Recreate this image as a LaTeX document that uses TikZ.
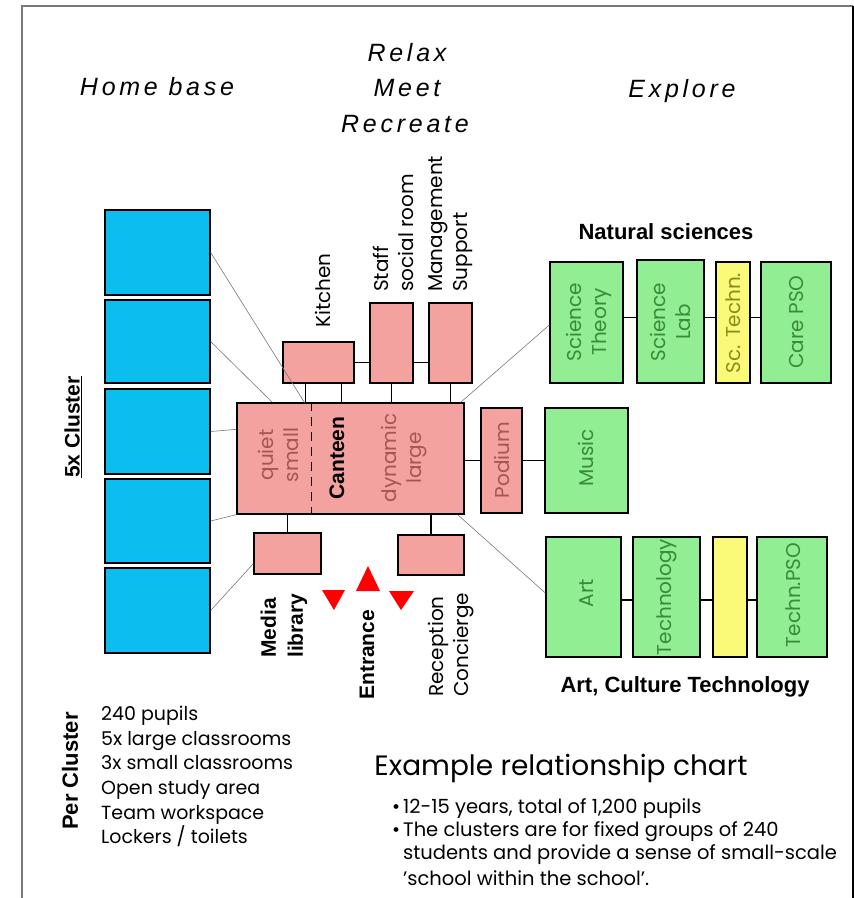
\documentclass[tikz,border=0pt]{standalone}
\usepackage{fontspec}
\setmainfont{Poppins}
\newfontfamily\headfont[LetterSpace=15]{Liberation Sans}
\newfontfamily\arialfont{Liberation Sans}
\usetikzlibrary{calc}
\definecolor{cyanfill}{RGB}{12,190,240}
\definecolor{pinkfill}{RGB}{244,162,160}
\definecolor{greenfill}{RGB}{146,238,146}
\definecolor{yellowfill}{RGB}{250,250,120}
\definecolor{greentext}{RGB}{55,140,55}
\definecolor{pinktext}{RGB}{165,85,85}
\definecolor{yellowtext}{RGB}{140,140,30}
\definecolor{thingray}{RGB}{120,120,120}
\tikzset{
  box/.style={draw=black, line width=1.3pt, inner sep=0pt},
  bluebox/.style={box, fill=cyanfill, minimum width=105},
  pinkbox/.style={box, fill=pinkfill},
  greenbox/.style={box, fill=greenfill},
  yellowbox/.style={box, fill=yellowfill},
  conn/.style={draw=black, line width=1.3pt},
  thinline/.style={draw=thingray, line width=0.6pt},
  rot/.style={rotate=90, inner sep=0pt, font=\fontsize{20}{25}\selectfont},
  rotbold/.style={rotate=90, inner sep=0pt, font=\arialfont\bfseries\fontsize{21}{27}\selectfont},
  heading/.style={inner sep=0pt, font=\headfont\itshape\fontsize{25}{30}\selectfont},
  grouplabel/.style={inner sep=0pt, font=\arialfont\bfseries\fontsize{22}{25}\selectfont},
  notes/.style={anchor=west, align=left, inner sep=0pt, font=\fontsize{19.5}{23}\selectfont},
}
\newcommand{\bul}{\makebox[11pt][l]{\textbullet}}
\begin{document}
\begin{tikzpicture}[x=1pt,y=-1pt]
\useasboundingbox (0,0) rectangle (854,898);
% frame
\draw[draw=thingray, line width=1.2pt] (22,898) -- (22,6) -- (853,6);
\draw[draw=black, line width=1.5pt] (853,6) -- (853,898);

% headings
\node[heading] (hb) at (157,87) {Home base};
\node[heading] (relax) at (407,53) {Relax};
\node[heading] (meet) at (407,88) {Meet};
\node[heading] (recr) at (405,124) {Recreate};
\node[heading] (expl) at (682,91) {Explore};

% home base clusters
\node[bluebox, minimum height=85] (b1) at (157.5,252.5) {};
\node[bluebox, minimum height=83] (b2) at (157.5,341.5) {};
\node[bluebox, minimum height=85] (b3) at (157.5,431.5) {};
\node[bluebox, minimum height=84] (b4) at (157.5,521) {};
\node[bluebox, minimum height=85] (b5) at (157.5,610.5) {};
\node[rotbold, font=\arialfont\bfseries\fontsize{21}{25}\selectfont] (cl5) at (73,427) {\underline{5x Cluster}};

% canteen and surroundings
\node[pinkbox, minimum width=227, minimum height=111] (canteen) at (350.5,458.5) {};
\node[pinkbox, minimum width=71, minimum height=41] (kitchen) at (318.5,362.5) {};
\node[pinkbox, minimum width=43, minimum height=80] (staff) at (391.5,343) {};
\node[pinkbox, minimum width=43, minimum height=80] (mgmt) at (450.5,343) {};
\node[pinkbox, minimum width=67, minimum height=41] (media) at (287.5,553.5) {};
\node[pinkbox, minimum width=66, minimum height=40] (recep) at (431,555) {};
\node[pinkbox, minimum width=41, minimum height=105] (podium) at (501.5,460.5) {};
\node[greenbox, minimum width=83, minimum height=105] (music) at (586.5,460.5) {};

\draw[dash pattern=on 9pt off 6pt, line width=1.6pt] ($(canteen.north west)+(75,0)$) -- ($(canteen.south west)+(75,0)$);

\node[rot, text=pinktext, align=center] (qs) at (278,455) {quiet\\small};
\node[rotbold] (cant) at (337,458) {Canteen};
\node[rot, text=pinktext, align=center] (dl) at (404,458) {dynamic\\large};
\node[rot, text=pinktext] (podt) at (502,460) {Podium};
\node[rot, text=greentext] (must) at (586,458) {Music};

\node[rot, anchor=west] (kitt) at (323,328) {Kitchen};
\node[rot, anchor=west, align=left] (stafft) at (393.5,292) {Staff\\social room};
\node[rot, anchor=west, align=left] (mgmtt) at (450.5,292) {Management\\Support};
\node[rotbold, anchor=west, align=left] (mediat) at (284,658) {Media\\library};
\node[rotbold, anchor=west] (entt) at (367,700) {Entrance};
\node[rot, anchor=west, align=left] (rect) at (451,697) {Reception\\Concierge};

% entrance triangles
\fill[red] (322,590) -- (345,590) -- (334,610) -- cycle;
\fill[red] (356,591) -- (380,591) -- (368,566) -- cycle;
\fill[red] (389,591) -- (414,591) -- (401,610) -- cycle;

% natural sciences
\node[grouplabel] (nat) at (666,232) {Natural sciences};
\node[greenbox, minimum width=73, minimum height=121] (sth) at (586.5,322.5) {};
\node[greenbox, minimum width=67, minimum height=123] (slab) at (670.5,321.5) {};
\node[yellowbox, minimum width=34, minimum height=121] (sct) at (733,322.5) {};
\node[greenbox, minimum width=70, minimum height=121] (care) at (796,322.5) {};
\node[rot, text=greentext, align=center] (stht) at (589,322) {Science\\Theory};
\node[rot, text=greentext, align=center] (slabt) at (670,322) {Science\\Lab};
\node[rot, text=yellowtext] (sctt) at (733,323) {Sc. Techn.};
\node[rot, text=greentext] (caret) at (797,322) {Care PSO};

% art culture technology
\node[greenbox, minimum width=75, minimum height=120] (art) at (583.5,597) {};
\node[greenbox, minimum width=67, minimum height=120] (tech) at (666.5,597) {};
\node[yellowbox, minimum width=34, minimum height=120] (yel) at (730,597) {};
\node[greenbox, minimum width=70, minimum height=120] (tpso) at (792,597) {};
\node[rot, text=greentext] (artt) at (587,593) {Art};
\node[rot, text=greentext] (techt) at (667,597) {Technology};
\node[rot, text=greentext] (tpsot) at (793,595) {Techn.PSO};
\node[grouplabel] (act) at (685,687) {Art, Culture Technology};

% black connectors
\draw[conn] (kitchen.east) -- (kitchen.east -| staff.west);
\draw[conn] (kitchen.east -| staff.east) -- (kitchen.east -| mgmt.west);
\coordinate (k1) at ($(kitchen.south west)+(23,0)$);
\coordinate (k2) at ($(kitchen.south west)+(59,0)$);
\draw[conn] (k1) -- (k1 |- canteen.north);
\draw[conn] (k2) -- (k2 |- canteen.north);
\draw[conn] (staff.south) -- (staff.south |- canteen.north);
\draw[conn] (mgmt.south) -- (mgmt.south |- canteen.north);
\draw[conn] (media.north) -- (media.north |- canteen.south);
\draw[conn] (recep.north) -- (recep.north |- canteen.south);
\draw[conn] (canteen.east |- podium.west) -- (podium.west);
\draw[conn] (podium.east) -- (music.west);
\draw[conn] ([yshift=5pt]sth.east) -- ([yshift=5pt]sth.east -| slab.west);
\draw[conn] ([yshift=5pt]sth.east -| slab.east) -- ([yshift=5pt]sth.east -| sct.west);
\draw[conn] ([yshift=5pt]sth.east -| sct.east) -- ([yshift=5pt]sth.east -| care.west);
\draw[conn] ([yshift=-3pt]art.east) -- ([yshift=-3pt]art.east -| tech.west);
\draw[conn] ([yshift=-3pt]art.east -| tech.east) -- ([yshift=-3pt]art.east -| yel.west);
\draw[conn] ([yshift=-3pt]art.east -| yel.east) -- ([yshift=-3pt]art.east -| tpso.west);

% thin grey relation lines
\draw[thinline] (b1.east) -- ($(canteen.north west)+(68,0)$);
\draw[thinline] (b2.east) -- ($(canteen.north west)+(36,0)$);
\draw[thinline] (b3.east) -- ($(canteen.north west)+(0,27)$);
\draw[thinline] (b4.east) -- (canteen.south west);
\draw[thinline] (b5.east) -- ($(media.south west)+(0,-11)$);
\draw[thinline] ([xshift=-4pt]canteen.north east) -- ([yshift=-2.5pt]sth.west);
\draw[thinline] ([xshift=-7pt]canteen.south east) -- ([yshift=4pt]art.west);

% per cluster
\node[rotbold, font=\arialfont\bfseries\fontsize{22}{26}\selectfont] (pc) at (70,771) {Per Cluster};
\node[anchor=west, align=left, inner sep=0pt, font=\fontsize{19}{24.6}\selectfont] (pclist) at (101,776.5)
  {240 pupils\\5x large classrooms\\3x small classrooms\\Open study area\\Team workspace\\Lockers / toilets};

% title and notes
\node[inner sep=0pt, font=\fontsize{28}{32}\selectfont] (title) at (561,768) {Example relationship chart};
\node[notes] (n1) at (392,809) {\bul 12-15 years, total of 1,200 pupils};
\node[notes] (n2) at (392,832) {\bul The clusters are for fixed groups of 240};
\node[notes] (n3) at (403,855) {students and provide a sense of small-scale};
\node[notes] (n4) at (403,878) {'school within the school'.};
\end{tikzpicture}
\end{document}
